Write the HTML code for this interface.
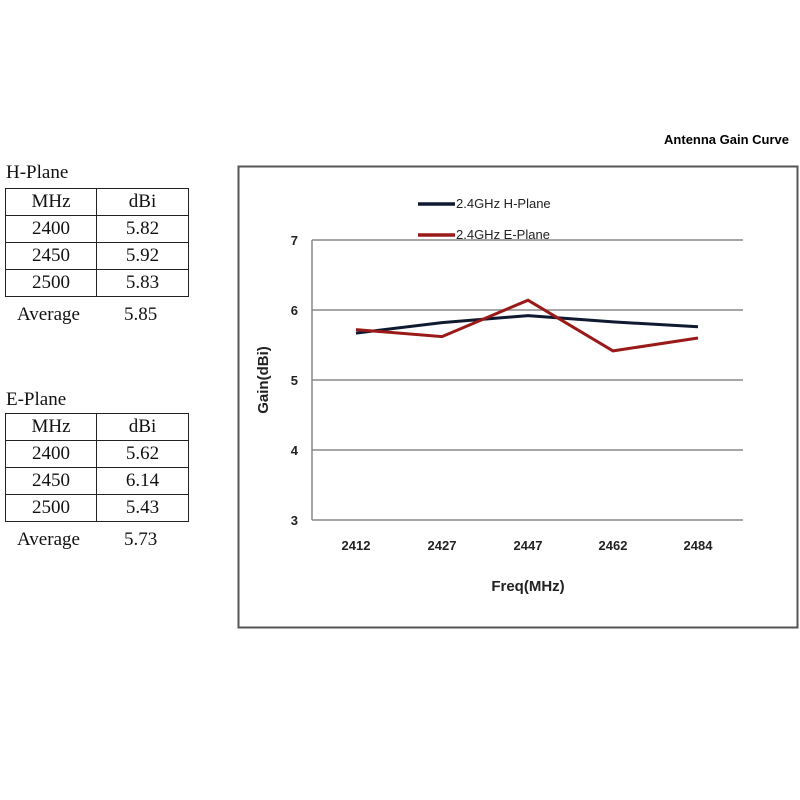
<!DOCTYPE html>
<html><head><style>
body{margin:0;width:800px;height:800px;background:#fff;position:relative;overflow:hidden;font-family:"Liberation Serif",serif;color:#111}
.t{position:absolute;font-size:19px}
table{position:absolute;border-collapse:collapse;font-size:19px}
td{border:1.5px solid #222;height:26px;padding:0;text-align:center;line-height:26px}
</style></head><body>
<div class="t" style="left:6px;top:162px">H-Plane</div>
<table style="left:5px;top:188px"><tr><td style="width:90px">MHz</td><td style="width:91px">dBi</td></tr>
<tr><td>2400</td><td>5.82</td></tr><tr><td>2450</td><td>5.92</td></tr><tr><td>2500</td><td>5.83</td></tr></table>
<div class="t" style="left:17px;top:304px">Average</div><div class="t" style="left:124px;top:304px">5.85</div>
<div class="t" style="left:6px;top:389px">E-Plane</div>
<table style="left:5px;top:413px"><tr><td style="width:90px">MHz</td><td style="width:91px">dBi</td></tr>
<tr><td>2400</td><td>5.62</td></tr><tr><td>2450</td><td>6.14</td></tr><tr><td>2500</td><td>5.43</td></tr></table>
<div class="t" style="left:17px;top:529px">Average</div><div class="t" style="left:124px;top:529px">5.73</div>
<svg width="800" height="800" style="position:absolute;left:0;top:0" font-family="Liberation Sans, sans-serif">
<text x="789" y="144" text-anchor="end" font-size="13" font-weight="bold">Antenna Gain Curve</text>
<rect x="238.5" y="166.5" width="559" height="461" fill="none" stroke="#555" stroke-width="2"/>
<g stroke="#888" stroke-width="1.5">
<line x1="312" y1="240" x2="743" y2="240"/><line x1="312" y1="310" x2="743" y2="310"/>
<line x1="312" y1="380" x2="743" y2="380"/><line x1="312" y1="450" x2="743" y2="450"/>
<line x1="312" y1="520" x2="743" y2="520"/><line x1="312" y1="240" x2="312" y2="520"/></g>
<g font-size="13" font-weight="bold" fill="#222" text-anchor="end">
<text x="298" y="245">7</text><text x="298" y="315">6</text><text x="298" y="385">5</text><text x="298" y="455">4</text><text x="298" y="525">3</text></g>
<g font-size="13" font-weight="bold" fill="#222" text-anchor="middle">
<text x="356" y="550">2412</text><text x="442" y="550">2427</text><text x="528" y="550">2447</text><text x="613" y="550">2462</text><text x="698" y="550">2484</text>
<text x="528" y="591" font-size="15">Freq(MHz)</text>
<text transform="translate(268 380) rotate(-90)" font-size="15">Gain(dBi)</text></g>
<polyline fill="none" stroke="#0f1a30" stroke-width="3" points="356,333.1 442,322.6 528,315.6 613,321.9 698,326.8"/>
<polyline fill="none" stroke="#9a1a1a" stroke-width="3" points="356,329.6 442,336.6 528,300.2 613,350.9 698,338"/>
<line x1="418" y1="204" x2="455" y2="204" stroke="#0f1a30" stroke-width="3.5"/>
<line x1="418" y1="235" x2="455" y2="235" stroke="#9a1a1a" stroke-width="3.5"/>
<g font-size="13" fill="#222"><text x="456" y="208">2.4GHz H-Plane</text><text x="456" y="239">2.4GHz E-Plane</text></g>
</svg>
</body></html>
